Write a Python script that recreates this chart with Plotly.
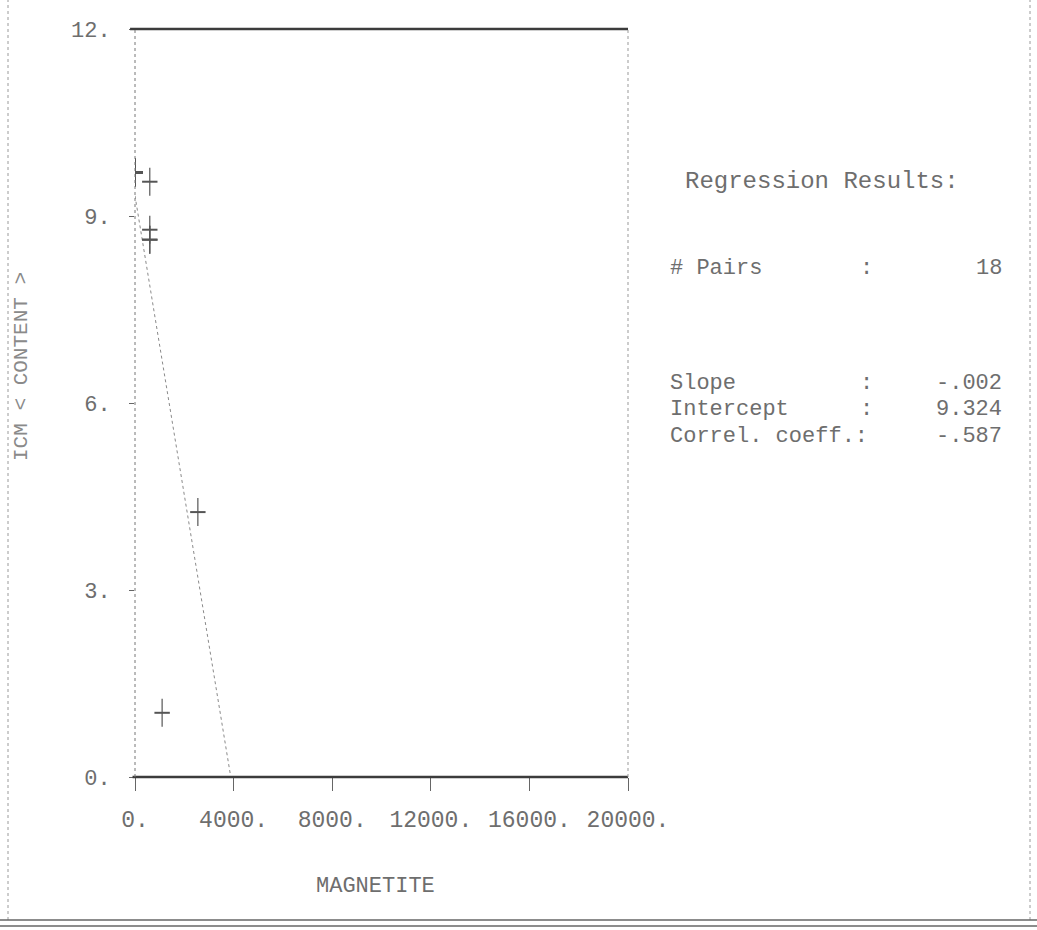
import plotly.graph_objects as go

# Sample pairs: magnetite count vs. measured value
magnetite = [0, 0, 0, 0, 0, 0, 0, 0, 0, 0, 0, 600, 600, 600, 600, 2550, 1100, 0]
values = [9.7, 9.7, 9.7, 9.7, 9.7, 9.7, 9.7, 9.7, 9.7, 9.7, 9.7, 9.55, 8.78, 8.62, 8.62, 4.25, 1.03, 9.7]

# Fitted regression
n_pairs = 18
slope = -0.0024
intercept = 9.324
correl = -0.587

x_ticks = [0, 4000, 8000, 12000, 16000, 20000]
x_tick_text = ["0.", "4000.", "8000.", "12000.", "16000.", "20000."]
y_ticks = [0, 3, 6, 9, 12]
y_tick_text = ["0.", "3.", "6.", "9.", "12."]

FONT = "Liberation Mono"
INK = "#555555"
TEXT = "#6e6e6e"

# pixel geometry of the plotting box
L, R, T, B = 135, 628, 29, 777
PW, PH = R - L, B - T


def px(x):
    return (x - L) / PW


def py(y):
    return (B - y) / PH


def fmt(v, nd=3):
    s = f"{v:.{nd}f}"
    if s.startswith("-0."):
        return "-" + s[2:]
    if s.startswith("0."):
        return s[1:]
    return s


fig = go.Figure()

# regression line from intercept down to the x-axis crossing
x_end = -intercept / slope
fig.add_trace(go.Scatter(
    x=[0, x_end], y=[intercept, intercept + slope * x_end],
    mode="lines", line=dict(color="#8a8a8a", width=1, dash="dot"),
    hoverinfo="skip", showlegend=False))

# plus markers: tall vertical stroke plus shorter horizontal stroke
fig.add_trace(go.Scatter(
    x=magnetite, y=values, mode="markers",
    marker=dict(symbol="line-ns", size=20, line=dict(color=INK, width=1.2)),
    showlegend=False))
fig.add_trace(go.Scatter(
    x=magnetite, y=values, mode="markers",
    marker=dict(symbol="line-ew", size=11, line=dict(color=INK, width=2)),
    showlegend=False))

# plot frame: heavy top/bottom, dotted sides
fig.add_shape(type="line", xref="x domain", yref="y domain", x0=-0.01, x1=1, y0=1, y1=1,
              line=dict(color="#3c3c3c", width=2.5))
fig.add_shape(type="line", xref="x domain", yref="y domain", x0=-0.005, x1=1, y0=0, y1=0,
              line=dict(color="#3c3c3c", width=2.5))
fig.add_shape(type="line", xref="x domain", yref="y domain", x0=0, x1=0, y0=0, y1=1,
              line=dict(color="#777777", width=1, dash="dot"))
fig.add_shape(type="line", xref="x domain", yref="y domain", x0=1, x1=1, y0=0, y1=1,
              line=dict(color="#999999", width=1, dash="dot"))

# page border
for bx in (8, 1030):
    fig.add_shape(type="line", xref="paper", yref="paper", x0=px(bx), x1=px(bx),
                  y0=py(920), y1=py(0), line=dict(color="#9a9a9a", width=1, dash="dot"))
for yy in (920, 926):
    fig.add_shape(type="line", xref="paper", yref="paper", x0=px(0), x1=px(1037),
                  y0=py(yy), y1=py(yy), line=dict(color="#666666", width=1.3))


# results panel
def txt(x, y, s, anchor="left", size=22):
    fig.add_annotation(xref="paper", yref="paper", x=px(x), y=py(y), text=s,
                       showarrow=False, xanchor=anchor, yanchor="middle",
                       font=dict(family=FONT, size=size, color=TEXT))


txt(683, 181, "Regression Results:", size=24)
txt(668, 268, "# Pairs")
txt(858, 268, ":")
txt(1004, 268, str(n_pairs), anchor="right")
txt(668, 383, "Slope")
txt(858, 383, ":")
txt(1004, 383, fmt(slope), anchor="right")
txt(668, 409, "Intercept")
txt(858, 409, ":")
txt(1004, 409, f"{intercept:.3f}", anchor="right")
txt(668, 436, "Correl. coeff.:")
txt(1004, 436, fmt(correl), anchor="right")

# axis titles
txt(375, 886, "MAGNETITE", anchor="center")
fig.add_annotation(xref="paper", yref="paper", x=px(21), y=py(367),
                   text="ICM < CONTENT >", textangle=-90, showarrow=False,
                   xanchor="center", yanchor="middle",
                   font=dict(family=FONT, size=21, color="#8a8a8a"))

fig.update_xaxes(range=[0, 20000], tickvals=x_ticks, ticktext=x_tick_text,
                 ticks="outside", ticklen=13, tickwidth=1, tickcolor="#666666",
                 showgrid=False, zeroline=False, showline=False,
                 tickfont=dict(family=FONT, size=23, color=TEXT),
                 ticklabelstandoff=8)
fig.update_yaxes(range=[0, 12], tickvals=y_ticks, ticktext=y_tick_text,
                 ticks="outside", ticklen=5, tickwidth=1, tickcolor="#666666",
                 showgrid=False, zeroline=False, showline=False,
                 tickfont=dict(family=FONT, size=22, color=TEXT), ticklabelstandoff=14)

fig.update_layout(width=1037, height=930, margin=dict(l=L, r=1037 - R, t=T, b=930 - B),
                  plot_bgcolor="white", paper_bgcolor="white")

fig.write_html("out.html")
